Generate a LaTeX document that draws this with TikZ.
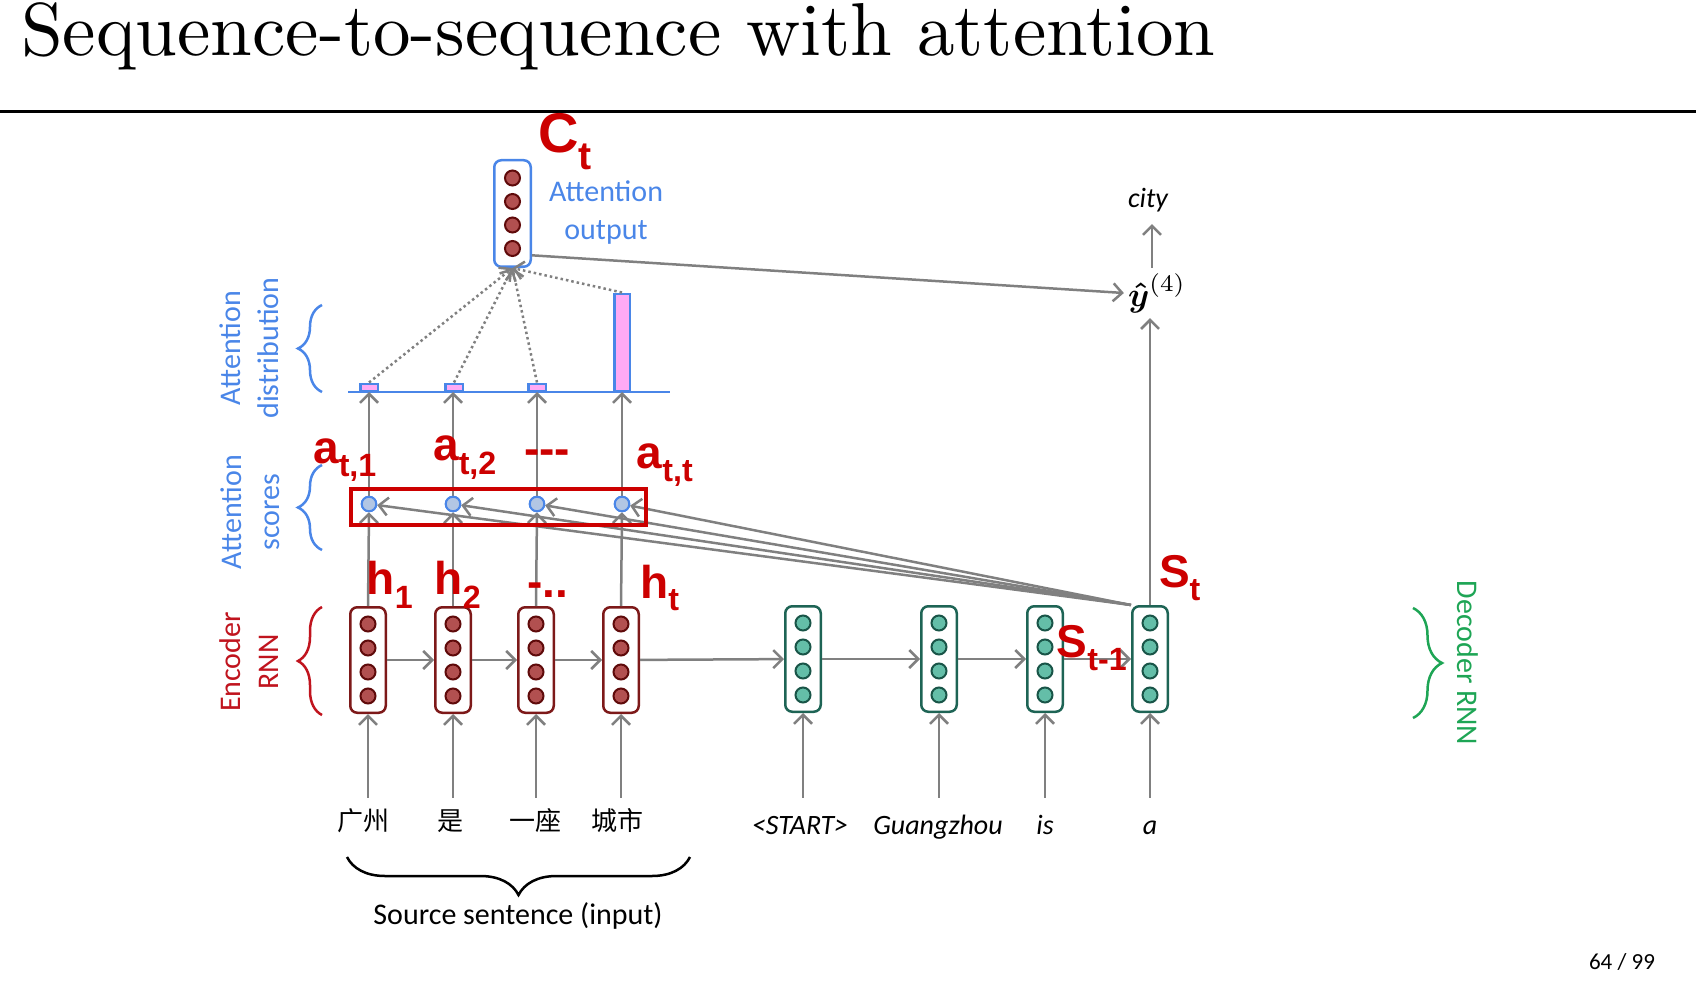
\documentclass[tikz,border=0pt]{standalone}
\usepackage{amsmath}
\usepackage{graphicx}
\usepackage{fontspec}
\newfontfamily\ttl{lmroman10-regular}[Extension=.otf]
\newfontfamily\carl{Carlito}
\newfontfamily\cjk{Noto Sans CJK SC}
\newfontfamily\hand{Liberation Sans}
\usetikzlibrary{arrows.meta,decorations.pathreplacing,calc}
\definecolor{ablue}{RGB}{74,134,232}
\definecolor{gry}{RGB}{128,128,128}
\definecolor{encB}{RGB}{125,25,25}
\definecolor{encF}{RGB}{178,80,80}
\definecolor{encC}{RGB}{95,10,10}
\definecolor{encL}{RGB}{192,20,30}
\definecolor{decB}{RGB}{30,100,85}
\definecolor{decF}{RGB}{100,190,168}
\definecolor{decC}{RGB}{25,85,72}
\definecolor{decL}{RGB}{30,165,85}
\definecolor{hred}{RGB}{204,0,0}
\definecolor{pinkf}{RGB}{255,170,245}
\definecolor{scoref}{RGB}{178,198,228}
\begin{document}
\begin{tikzpicture}[x=1pt,y=-1pt,
  arr/.style={draw=gry, line width=2.5pt, -{Straight Barb[length=9pt,width=18pt]}},
  dotarr/.style={arr, dash pattern=on 2.5pt off 3pt},
  encbox/.style={draw=encB, fill=white, line width=2.5pt, rounded corners=7pt, minimum width=35.5pt, minimum height=105.5pt, inner sep=0pt},
  decbox/.style={encbox, draw=decB},
  aobox/.style={encbox, draw=ablue, minimum width=36.5pt, minimum height=106.5pt},
  enccirc/.style={circle, draw=encC, fill=encF, line width=2pt, minimum size=15pt, inner sep=0pt},
  deccirc/.style={enccirc, draw=decC, fill=decF},
  score/.style={circle, draw=ablue, fill=scoref, line width=2pt, minimum size=14.5pt, inner sep=0pt},
  bar/.style={draw=ablue, fill=pinkf, line width=2.5pt, inner sep=0pt, anchor=south},
  word/.style={inner sep=0pt, anchor=base, text height=36pt, text depth=8pt, font=\carl\itshape\fontsize{28}{32}\selectfont},
  cword/.style={word, text height=32pt, font=\cjk\fontsize{26}{30}\selectfont},
  lab/.style={inner sep=0pt, align=center, font=\carl\fontsize{30}{38}\selectfont},
  hw/.style={inner sep=0pt, text=hred, font=\hand\bfseries\fontsize{46}{50}\selectfont},
  brc/.style={line width=2.5pt, decorate, decoration={brace, amplitude=#1}},
]
\useasboundingbox (0,0) rectangle (1696,1000);

% title and rule
\node[anchor=base west, inner sep=0pt, font=\ttl\fontsize{75}{80}\selectfont] (title) at (21,56) {Sequence-to-sequence with attention};
\draw[line width=3pt] (0,112) -- (1696,112);
\node[inner sep=0pt, font=\carl\fontsize{23}{26}\selectfont] (page) at (1622,962) {64 / 99};

% encoder and decoder boxes
\foreach \i/\x in {1/368,2/453,3/536,4/621} {
  \node[encbox] (e\i) at (\x,660) {};
  \foreach \k/\dy in {1/-36,2/-12,3/12,4/36}
    \node[enccirc] (e\i-\k) at (\x,660+\dy) {};
}
\foreach \i/\x in {1/803,2/939,3/1045,4/1150} {
  \node[decbox] (d\i) at (\x,659) {};
  \foreach \k/\dy in {1/-36,2/-12,3/12,4/36}
    \node[deccirc] (d\i-\k) at (\x,659+\dy) {};
}

% attention output
\node[aobox] (ao) at (512.5,213.5) {};
\foreach \k/\dy in {1/-35.5,2/-12,3/11.5,4/35}
  \node[enccirc] (ao-\k) at (512.5,213.5+\dy) {};
\node[lab, text=ablue] (aolab) at (606,213) {Attention\\output};

% score circles
\foreach \i/\x in {1/369,2/453,3/537,4/622}
  \node[score] (s\i) at (\x,504) {};

% attention distribution
\coordinate (bl1) at (348,392);
\coordinate (bl2) at (670,392);
\draw[draw=ablue, line width=2.5pt] (bl1) -- (bl2);
\node[bar, minimum width=17.5pt, minimum height=7pt] (b1) at (369,392) {};
\node[bar, minimum width=17.5pt, minimum height=7pt] (b2) at (454,392) {};
\node[bar, minimum width=17.5pt, minimum height=7pt] (b3) at (537,392) {};
\node[bar, minimum width=15.5pt, minimum height=97pt] (b4) at (622,392) {};

% words
\node[cword] (w1) at (363,830) {广州};
\node[cword] (w2) at (450,830) {是};
\node[cword] (w3) at (535,830) {一座};
\node[cword] (w4) at (617,830) {城市};
\node[word] (w5) at (800,834) {<START>};
\node[word] (w6) at (938,834) {Guangzhou};
\node[word] (w7) at (1045,834) {is};
\node[word] (w8) at (1150,834) {a};

% output
\node[inner xsep=4pt, inner ysep=0pt, minimum height=50pt] (yhat) at (1157,293) {\scalebox{3.4}{$\boldsymbol{\hat{y}}^{(4)}$}};
\node[inner sep=0pt, font=\carl\itshape\fontsize{28}{32}\selectfont] (city) at (1148,200) {city};

% input arrows
\foreach \i in {1,2,3,4} {
  \draw[arr] (e\i |- w\i.north) -- (e\i.south);
  \draw[arr] (e\i.north) -- (s\i.south);
  \draw[arr] (s\i.north) -- (s\i |- bl1);
}
\foreach \i/\j in {5/1,6/2,7/3,8/4}
  \draw[arr] (d\j |- w\i.north) -- (d\j.south);

% recurrent arrows
\draw[arr] (e1) -- (e2);
\draw[arr] (e2) -- (e3);
\draw[arr] (e3) -- (e4);
\draw[arr] (e4) -- (d1);
\draw[arr] (d1) -- (d2);
\draw[arr] (d2) -- (d3);
\draw[arr] (d3) -- (d4);

% decoder state to scores
\foreach \i in {1,2,3,4}
  \draw[arr] (d4.north west) -- (s\i);

% distribution to output
\foreach \i in {1,2,3,4}
  \draw[dotarr] (b\i.north) -- (ao.south);

\draw[arr] (ao.-65) -- (yhat.west);
\draw[arr] (d4.north) -- (d4 |- yhat.south);
\draw[arr, shorten >=12pt] ([xshift=2pt]d4 |- yhat.north) -- ([xshift=2pt]d4 |- city.south);

% red score box
\node[draw=hred, line width=4pt, minimum width=295pt, minimum height=36pt, inner sep=0pt] (scorebox) at (498.5,507) {};
\foreach \i/\x in {1/369,2/453,3/537,4/622}
  \node[score] (t\i) at (\x,504) {};

% side labels and braces
\node[lab, text=ablue, rotate=90] (l1) at (249,348) {Attention\\distribution};
\draw[brc=24pt, ablue] (322,392) -- (322,305);
\node[lab, text=ablue, rotate=90] (l2) at (250,512) {Attention\\scores};
\draw[brc=24pt, ablue] (322,550) -- (322,465);
\node[lab, text=encL, rotate=90] (l3) at (249,662) {Encoder\\RNN};
\draw[brc=24pt, encL] (322,715) -- (322,607);
\node[lab, text=decL, rotate=-90] (l4) at (1468,663) {Decoder RNN};
\draw[brc=29pt, decL] (1413,608) -- (1413,718);
\draw[brc=38pt, black] (690,857) -- (347,857);
\node[lab] (src) at (518,916) {Source sentence (input)};

% handwritten annotations
\node[hw, font=\hand\bfseries\fontsize{56}{60}\selectfont] (hC) at (565,142) {C\textsubscript{t}};
\node[hw] (ha1) at (345,460) {a\textsubscript{t,1}};
\node[hw] (ha2) at (465,458) {a\textsubscript{t,2}};
\node[hw] (had) at (547,457) {{-}{-}{-}};
\node[hw] (hat) at (665,465) {a\textsubscript{t,t}};
\node[hw] (hh1) at (390,585) {h\textsubscript{1}};
\node[hw] (hh2) at (458,585) {h\textsubscript{2}};
\node[hw] (hhd) at (548,590) {-..};
\node[hw] (hht) at (660,588) {h\textsubscript{t}};
\node[hw] (hst) at (1180,578) {S\textsubscript{t}};
\node[hw] (hst1) at (1092,648) {S\textsubscript{t-1}};
\end{tikzpicture}
\end{document}
